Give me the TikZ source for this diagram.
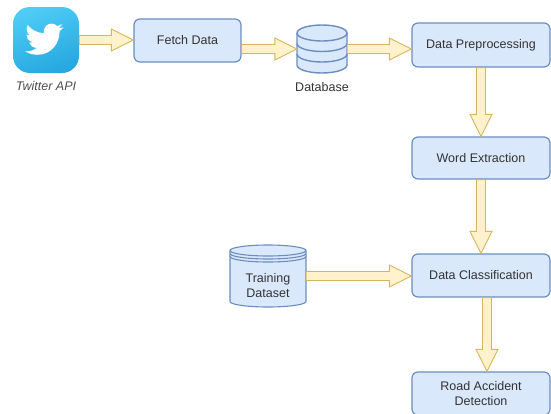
\documentclass[tikz,border=0pt]{standalone}
\usepackage{fontspec}
\setmainfont{Liberation Sans}
\usepackage{tikz}
\usetikzlibrary{calc, positioning}
\definecolor{boxfill}{RGB}{218, 232, 252}
\definecolor{boxline}{RGB}{108, 142, 191}
\definecolor{arrowfill}{RGB}{255, 242, 204}
\definecolor{arrowline}{RGB}{214, 182, 86}
\definecolor{textgray}{RGB}{51, 51, 51}
\definecolor{labelgray}{RGB}{77, 77, 77}
\definecolor{twlight}{RGB}{78, 204, 246}
\definecolor{twdark}{RGB}{38, 168, 224}

% fat block arrow from #1 to #2
\newcommand{\flexarrow}[2]{%
  \path (#1) coordinate (fa-s) (#2) coordinate (fa-e);
  \coordinate (fa-n) at ($(fa-e)!22pt!(fa-s)$);
  \draw[flexline] ($(fa-s)!4.5pt!90:(fa-e)$) -- ($(fa-n)!4.5pt!90:(fa-e)$)
    -- ($(fa-n)!11pt!90:(fa-e)$) -- (fa-e) -- ($(fa-n)!11pt!-90:(fa-e)$)
    -- ($(fa-n)!4.5pt!-90:(fa-e)$) -- ($(fa-s)!4.5pt!-90:(fa-e)$) -- cycle;}

\begin{document}
\begin{tikzpicture}[x=1pt, y=-1pt,
  procbox/.style={draw=boxline, fill=boxfill, line width=1.2pt, rounded corners=6pt,
    minimum width=138pt, minimum height=43pt, inner sep=0pt, align=center,
    text=textgray, font=\fontsize{12.5}{15}\selectfont},
  storeline/.style={draw=boxline, fill=boxfill, line width=1.4pt},
  flexline/.style={draw=arrowline, fill=arrowfill, line width=0.9pt},
  caption/.style={text=textgray, font=\fontsize{12.5}{15}\selectfont, align=center}]
  \useasboundingbox (0, 0) rectangle (551, 413);

  % Twitter icon
  \node[rounded corners=17pt, minimum size=66pt, inner sep=0pt,
        top color=twlight, bottom color=twdark, shading angle=20] (api) at (46, 40) {};
  \begin{scope}[shift={(api.center)}, scale=1.6, shift={(-13.1, -12.5)}]
    \fill[white] (23.953, 4.57) -- (21.128, 5.345) -- (23.291, 2.622)
      .. controls (22.34, 3.177) and (21.286, 3.581) .. (20.164, 3.806)
      arc[start angle=-43.1, end angle=-193.1, radius=4.92]
      .. controls (7.69, 8.095) and (4.067, 6.13) .. (1.64, 3.162) -- (0.974, 5.637)
      .. controls (0.974, 7.347) and (1.844, 8.85) .. (3.162, 9.733) -- (0.934, 9.117) -- (0.934, 9.177)
      .. controls (1.78, 12.51) .. (4.88, 14.004) -- (2.668, 14.089)
      .. controls (4.24, 16.78) .. (7.272, 17.506)
      .. controls (4.46, 19.24) .. (1.17, 19.611)
      .. controls (0.78, 19.611) and (0.391, 19.588) .. (0, 19.544)
      .. controls (3.57, 21.37) .. (7.557, 21.753)
      .. controls (16.61, 21.753) and (21.555, 14.257) .. (21.555, 7.768)
      -- (21.54, 7.138) -- (24, 4.59) -- cycle;
  \end{scope}
  \node[text=labelgray, font=\fontsize{12.5}{15}\selectfont\itshape] (apilabel) at (46, 86) {Twitter API};

  % Pipeline
  \node[procbox, minimum width=107pt] (fetch) at (187.5, 40.5) {Fetch Data};
  \node[procbox, minimum height=44pt] (prep) at (481, 45) {Data Preprocessing};
  \node[procbox, minimum height=42pt] (word) at (481, 158) {Word Extraction};
  \node[procbox] (cls) at (481, 275.5) {Data Classification};
  \node[procbox] (road) at (481, 393.5) {Road Accident\\Detection};

  % Database
  \node[minimum width=50pt, minimum height=48pt, inner sep=0pt] (db) at (322, 49) {};
  \begin{scope}[shift={(db.center)}]
    \path[storeline] (-25, -16) -- (-25, 16) arc[start angle=180, end angle=0, x radius=25, y radius=8]
      -- (25, -16) arc[start angle=0, end angle=-180, x radius=25, y radius=8] -- cycle;
    \draw[storeline, fill=none] (-25, -16) arc[start angle=180, end angle=0, x radius=25, y radius=8];
    \draw[storeline, fill=none] (-25, -5.5) arc[start angle=180, end angle=0, x radius=25, y radius=8];
    \draw[storeline, fill=none] (-25, 5) arc[start angle=180, end angle=0, x radius=25, y radius=8];
  \end{scope}
  \node[caption] (dblabel) at (322, 87) {Database};

  % Training data store
  \node[minimum width=76pt, minimum height=62pt, inner sep=0pt] (train) at (268, 276) {};
  \begin{scope}[shift={(train.center)}]
    \path[storeline, line width=1.1pt] (-38, -25.5) -- (-38, 25.5) arc[start angle=180, end angle=0, x radius=38, y radius=5.5]
      -- (38, -25.5) arc[start angle=0, end angle=-180, x radius=38, y radius=5.5] -- cycle;
    \draw[storeline, line width=1.1pt, fill=none] (-38, -25.5) arc[start angle=180, end angle=0, x radius=38, y radius=5.5];
    \draw[storeline, line width=1.1pt, fill=none] (-38, -22.5) arc[start angle=180, end angle=0, x radius=38, y radius=5.5];
    \draw[storeline, line width=1.1pt, fill=none] (-38, -19.5) arc[start angle=180, end angle=0, x radius=38, y radius=5.5];
  \end{scope}
  \node[caption] (trainlabel) at ($(train.center)+(0, 10)$) {Training\\Dataset};

  % Connectors
  \flexarrow{api.east}{api.east -| fetch.west}
  \flexarrow{db.west -| fetch.east}{db.west}
  \flexarrow{db.east}{db.east -| prep.west}
  \flexarrow{prep.south}{word.north}
  \flexarrow{word.south}{cls.north}
  \flexarrow{train.east}{train.east -| cls.west}
  \flexarrow{[xshift=6pt]cls.south}{[xshift=6pt]road.north}
\end{tikzpicture}
\end{document}
